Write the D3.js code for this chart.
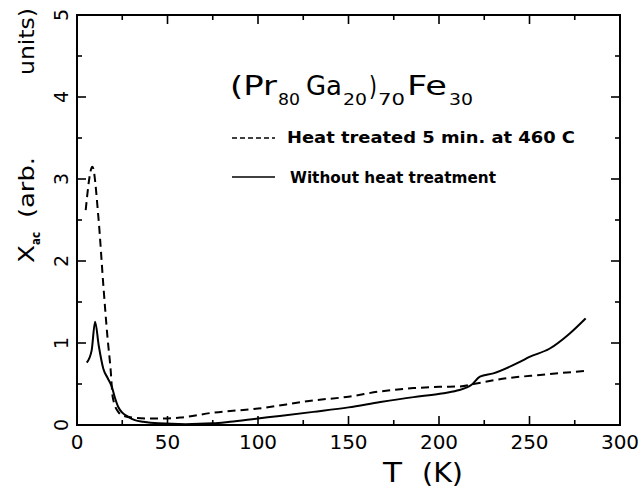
<!DOCTYPE html>
<meta charset="utf-8">
<head>
  <script src="https://d3js.org/d3.v7.min.js"></script>
  <style>
    body { margin: 0; background: #fff; }
    text { font-family: "DejaVu Sans", sans-serif; fill: #000; }
  </style>
</head>
<body>
<div id="chart"></div>
<script>
// heat treated 5 min at 460 C (dashed)
var tHeat   = [4.8, 8.5, 11.8, 14.6, 16.8, 18.6, 19.7, 22.8, 26, 31.1, 40, 50, 57, 75, 100, 130.6, 150, 167.6, 186, 200.5, 211.6, 219, 237.4, 255.8, 281];
var chiHeat = [2.62, 3.15, 2.54, 1.69, 1.08, 0.67, 0.345, 0.16, 0.11, 0.09, 0.08, 0.08, 0.09, 0.15, 0.20, 0.30, 0.345, 0.41, 0.45, 0.465, 0.47, 0.50, 0.57, 0.61, 0.66];
// without heat treatment (solid)
var tRaw    = [5.4, 8.1, 10, 12, 14.5, 17, 19.2, 21, 22.8, 25, 28.3, 32, 36.6, 45, 60, 75, 84.5, 100, 112, 130.6, 150, 167.6, 186, 200.5, 210, 218, 222.6, 230, 244.7, 250, 261, 272.4, 281];
var chiRaw  = [0.76, 0.91, 1.26, 0.97, 0.69, 0.57, 0.47, 0.33, 0.22, 0.15, 0.10, 0.06, 0.04, 0.02, 0.01, 0.02, 0.04, 0.08, 0.11, 0.16, 0.215, 0.28, 0.34, 0.38, 0.42, 0.49, 0.59, 0.63, 0.77, 0.83, 0.93, 1.12, 1.30];

var xMajor = [0, 50, 100, 150, 200, 250, 300];
var xMinor = [25, 75, 125, 175, 225, 275];
var yMajor = [0, 1, 2, 3, 4, 5];
var yMinor = [0.5, 1.5, 2.5, 3.5, 4.5];

var width = 642, height = 489;

var svg = d3.select("#chart").append("svg")
    .attr("width", width)
    .attr("height", height);

var x = d3.scaleLinear().domain([0, 300]).range([77, 620]);
var y = d3.scaleLinear().domain([0, 5]).range([425, 15]);

// frame
svg.append("rect")
  .attr("x", x(0)).attr("y", y(5))
  .attr("width", x(300) - x(0)).attr("height", y(0) - y(5))
  .attr("fill", "none").attr("stroke", "#000").attr("stroke-width", 2);

// ticks, all pointing inward
var ticks = svg.append("g").attr("stroke", "#000").attr("stroke-width", 1.6);
function xTicks(vals, len) {
  ticks.selectAll(null).data(vals).enter().append("line")
    .attr("x1", d => x(d)).attr("x2", d => x(d))
    .attr("y1", y(0)).attr("y2", y(0) - len);
  ticks.selectAll(null).data(vals).enter().append("line")
    .attr("x1", d => x(d)).attr("x2", d => x(d))
    .attr("y1", y(5)).attr("y2", y(5) + len);
}
function yTicks(vals, len) {
  ticks.selectAll(null).data(vals).enter().append("line")
    .attr("y1", d => y(d)).attr("y2", d => y(d))
    .attr("x1", x(0)).attr("x2", x(0) + len);
  ticks.selectAll(null).data(vals).enter().append("line")
    .attr("y1", d => y(d)).attr("y2", d => y(d))
    .attr("x1", x(300)).attr("x2", x(300) - len);
}
xTicks(xMajor, 9);
xTicks(xMinor, 5);
yTicks(yMajor, 9);
yTicks(yMinor, 5);

// tick labels
svg.append("g").selectAll("text").data(xMajor).enter().append("text")
  .attr("x", d => x(d)).attr("y", 449)
  .attr("text-anchor", "middle")
  .style("font-size", "20px")
  .text(d => d);

svg.append("g").selectAll("text").data(yMajor).enter().append("text")
  .attr("transform", d => "translate(68," + y(d) + ") rotate(-90)")
  .attr("text-anchor", "middle")
  .style("font-size", "19px")
  .text(d => d);

// curves
var line = d3.line()
  .x(d => x(d[0]))
  .y(d => y(d[1]))
  .curve(d3.curveMonotoneX);

svg.append("path")
  .datum(d3.zip(tHeat, chiHeat))
  .attr("d", line)
  .attr("fill", "none").attr("stroke", "#000").attr("stroke-width", 2)
  .attr("stroke-dasharray", "8,5");

svg.append("path")
  .datum(d3.zip(tRaw, chiRaw))
  .attr("d", line)
  .attr("fill", "none").attr("stroke", "#000").attr("stroke-width", 2);

// helper for stretched text pieces
function piece(parent, px, py, len, size, str) {
  return parent.append("text").attr("x", px).attr("y", py)
    .attr("textLength", len).attr("lengthAdjust", "spacingAndGlyphs")
    .style("font-size", size + "px").text(str);
}

// x axis title
piece(svg, 383, 482, 19, 27, "T");
piece(svg, 422, 482, 41, 27, "(K)");

// y axis title
var yt = svg.append("g").attr("transform", "translate(34,0) rotate(-90)");
piece(yt, -263, 0, 18, 21, "X");
piece(yt, -245, 6, 13, 12, "ac").style("font-weight", "bold");
piece(yt, -218, 0, 61, 21, "(arb.");
piece(yt, -75, 0, 67, 21, "units)");

// formula label
piece(svg, 230, 95, 47, 26, "(Pr");
piece(svg, 278, 105, 22, 15, "80");
piece(svg, 306, 95, 36, 26, "Ga");
piece(svg, 343, 105, 24, 15, "20");
piece(svg, 369, 95, 8, 26, ")");
piece(svg, 378, 105, 27, 15, "70");
piece(svg, 407, 95, 40, 26, "Fe");
piece(svg, 449, 105, 24, 15, "30");

// legend
svg.append("line").attr("x1", 232).attr("x2", 275).attr("y1", 138).attr("y2", 138)
  .attr("stroke", "#000").attr("stroke-width", 1.5).attr("stroke-dasharray", "5,3");
piece(svg, 287, 143, 288, 15, "Heat treated 5 min. at 460 C").style("font-weight", "bold");
svg.append("line").attr("x1", 232).attr("x2", 275).attr("y1", 177).attr("y2", 177)
  .attr("stroke", "#000").attr("stroke-width", 1.5);
piece(svg, 290, 183, 206, 15, "Without heat treatment").style("font-weight", "bold");
</script>
</body>
